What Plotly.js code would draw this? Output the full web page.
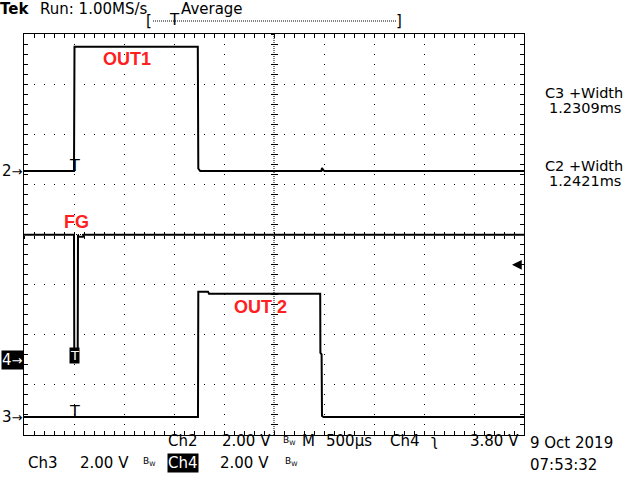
<!DOCTYPE html>
<html><head><meta charset="utf-8">
<script src="https://cdn.plot.ly/plotly-3.0.1.min.js"></script>
<style>html,body{margin:0;padding:0;background:#fff}#chart{width:640px;height:480px}</style>
</head><body><div id="chart"></div>
<script>
// Time in microseconds relative to the trigger point, amplitude in volts
const ch2Time = [-500, 0, 5, 1238, 1243, 1262, 2474, 2480, 2492, 2505, 4500];
const ch2Volt = [0, 0, 4.96, 4.96, 0.10, 0, 0, 0.12, 0.04, 0, 0];

const ch3Time = [-500, 1240, 1243, 1340, 1350, 2462, 2464, 2476, 2480, 2495, 4500];
const ch3Volt = [0, 0, 5.00, 5.00, 4.92, 4.92, 2.56, 2.50, 0.04, 0, 0];

const ch4Time = [-500, 0, 3, 37, 40, 45, 90, 95, 4500];
const ch4Volt = [5.00, 5.00, 0.05, 0.05, 5.00, 4.92, 4.92, 5.00, 5.00];

const voltsPerDiv = 2.0;
const ch2Ground = 1.267, ch3Ground = -3.64, ch4Ground = -2.504;
const triggerLevel = 3.80;

const toDiv = (v, g) => v.map(x => g + x / voltsPerDiv);

const FONT = 'DejaVu Sans, sans-serif';
const RFONT = 'Liberation Sans, Arial, sans-serif';
const PX = x => (x - 24) / 500;
const PY = y => 1 - (y - 34) / 401;

function lineTrace(t, v, g) {
  return {type: 'scatter', mode: 'lines', x: t, y: toDiv(v, g),
    line: {color: '#000', width: 2}, hoverinfo: 'skip', showlegend: false};
}
const empty = (xa, ya) => ({type: 'scatter', x: [], y: [], xaxis: xa, yaxis: ya, hoverinfo: 'skip', showlegend: false});

const data = [
  empty('x2', 'y'), empty('x3', 'y'), empty('x', 'y2'), empty('x', 'y3'),
  lineTrace(ch2Time, ch2Volt, ch2Ground),
  lineTrace(ch3Time, ch3Volt, ch3Ground),
  lineTrace(ch4Time, ch4Volt, ch4Ground)
];

const xr = [-500, 4500], yr = [-4, 4];
const baseX = {range: xr, showticklabels: false, zeroline: false, fixedrange: true};
const baseY = {range: yr, showticklabels: false, zeroline: false, fixedrange: true};

function txt(text, x, y, opts) {
  return Object.assign({text: text, xref: 'paper', yref: 'paper', x: PX(x), y: PY(y),
    xanchor: 'left', yanchor: 'middle', showarrow: false, borderpad: 0,
    font: {family: FONT, size: 15, color: '#000'}}, opts || {});
}
const red = {family: RFONT, size: 18, color: '#ff2020', weight: 'bold'};
const bw = '<span style="font-size:9px">B<sub>W</sub></span>';
const arrowSpan = '<span style="font-size:13px">→</span>';

const annotations = [
  txt('<b>Tek</b>', -1, 9),
  txt('Run: 1.00MS/s', 39, 9),
  txt('Average', 180, 9),
  txt('[', 145, 21),
  txt(']', 395, 21),
  txt('T', 168, 20),
  txt('C3 +Width', 584, 93, {xanchor: 'center', font: {family: FONT, size: 14.5, color: '#000'}}),
  txt('1.2309ms', 585, 108, {xanchor: 'center', font: {family: FONT, size: 14.5, color: '#000'}}),
  txt('C2 +Width', 584, 166, {xanchor: 'center', font: {family: FONT, size: 14.5, color: '#000'}}),
  txt('1.2421ms', 585, 181, {xanchor: 'center', font: {family: FONT, size: 14.5, color: '#000'}}),
  txt('Ch2', 167, 441), txt('2.00 V', 221, 441), txt(bw, 282, 440), txt('M', 301, 441),
  txt('500µs', 325, 441), txt('Ch4', 389, 441), txt('ʅ', 430, 441), txt('3.80 V', 469, 441),
  txt('Ch3', 27, 463), txt('2.00 V', 79, 463), txt(bw, 142, 462),
  txt('Ch4', 167, 463, {bgcolor: '#000', font: {family: FONT, size: 15, color: '#fff'}}),
  txt('2.00 V', 219, 463), txt(bw, 284, 462),
  txt('9 Oct 2019', 529, 443), txt('07:53:32', 529, 465),
  txt('OUT1', 127, 59, {xanchor: 'center', font: red}),
  txt('FG', 76, 222, {xanchor: 'center', font: red}),
  txt('OUT 2', 260, 307, {xanchor: 'center', font: red}),
  // channel ground markers
  {text: '2' + arrowSpan, xref: 'paper', x: 0, yref: 'y', y: ch2Ground, xanchor: 'right', yanchor: 'middle', showarrow: false, borderpad: 0, font: {family: FONT, size: 15, color: '#000'}},
  {text: '3' + arrowSpan, xref: 'paper', x: 0, yref: 'y', y: ch3Ground, xanchor: 'right', yanchor: 'middle', showarrow: false, borderpad: 0, font: {family: FONT, size: 15, color: '#000'}},
  {text: '4' + arrowSpan, xref: 'paper', x: 0, yref: 'y', y: ch4Ground, xanchor: 'right', yanchor: 'middle', showarrow: false, bgcolor: '#000', borderpad: 0, font: {family: FONT, size: 15, color: '#fff'}},
  // trigger markers
  {text: 'T', xref: 'x', x: 0, yref: 'y', y: ch2Ground, xanchor: 'center', yanchor: 'bottom', yshift: -5, showarrow: false, borderpad: 0, font: {family: FONT, size: 16, color: '#000'}},
  {text: 'T', xref: 'x', x: 0, yref: 'y', y: ch3Ground, xanchor: 'center', yanchor: 'bottom', yshift: -5, showarrow: false, borderpad: 0, font: {family: FONT, size: 16, color: '#000'}},
  {text: 'T', xref: 'x', x: 0, yref: 'y', y: ch4Ground, xanchor: 'center', yanchor: 'middle', yshift: 5, showarrow: false, bgcolor: '#000', borderpad: 0, font: {family: FONT, size: 13, color: '#fff'}},
  // trigger level arrow
  {text: '', xref: 'paper', x: PX(512), yref: 'y', y: ch4Ground + triggerLevel / voltsPerDiv, showarrow: true, ax: 11, ay: 0, arrowhead: 2, arrowsize: 1.3, arrowwidth: 1.5, arrowcolor: '#000'}
];

const shapes = [
  {type: 'line', xref: 'paper', yref: 'y', x0: 0, x1: 1, y0: 0, y1: 0, line: {color: '#000', width: 1, dash: '1px,1px'}},
  {type: 'line', xref: 'x', yref: 'paper', x0: 2000, x1: 2000, y0: 0, y1: 1, line: {color: '#000', width: 1, dash: '1px,1px'}},
  {type: 'line', xref: 'paper', yref: 'paper', x0: PX(153), x1: PX(396), y0: PY(21), y1: PY(21), line: {color: '#000', width: 1, dash: '1px,1px'}}
];

const layout = {
  width: 640, height: 480,
  margin: {l: 24, r: 116, t: 34, b: 45, pad: 0},
  paper_bgcolor: '#fff', plot_bgcolor: '#fff',
  showlegend: false,
  xaxis: Object.assign({}, baseX, {dtick: 500, tick0: 0, showgrid: true, gridcolor: '#000', gridwidth: 1, griddash: '1px,9px',
    showline: true, mirror: 'allticks', linecolor: '#000', linewidth: 1,
    ticks: 'inside', ticklen: 4, tickcolor: '#000', tickwidth: 1,
    minor: {dtick: 100, tick0: 0, ticks: 'inside', ticklen: 2, tickcolor: '#000', showgrid: false}}),
  yaxis: Object.assign({}, baseY, {dtick: 1, tick0: 0, showgrid: true, gridcolor: '#000', gridwidth: 1, griddash: '1px,9px',
    showline: true, mirror: 'allticks', linecolor: '#000', linewidth: 1,
    ticks: 'inside', ticklen: 4, tickcolor: '#000', tickwidth: 1,
    minor: {dtick: 0.2, tick0: 0, ticks: 'inside', ticklen: 2, tickcolor: '#000', showgrid: false}}),
  xaxis2: Object.assign({}, baseX, {overlaying: 'x', anchor: 'free', position: 0.5, showgrid: false, showline: false,
    dtick: 100, tick0: 0, ticks: 'outside', ticklen: 3, tickcolor: '#000', tickwidth: 1}),
  xaxis3: Object.assign({}, baseX, {overlaying: 'x', anchor: 'free', position: 0.5, showgrid: false, showline: false,
    dtick: 100, tick0: 0, ticks: 'inside', ticklen: 3, tickcolor: '#000', tickwidth: 1}),
  yaxis2: Object.assign({}, baseY, {overlaying: 'y', anchor: 'free', position: 0.5, showgrid: false, showline: false,
    dtick: 0.2, tick0: 0, ticks: 'outside', ticklen: 3, tickcolor: '#000', tickwidth: 1}),
  yaxis3: Object.assign({}, baseY, {overlaying: 'y', anchor: 'free', position: 0.5, showgrid: false, showline: false,
    dtick: 0.2, tick0: 0, ticks: 'inside', ticklen: 3, tickcolor: '#000', tickwidth: 1}),
  annotations: annotations,
  shapes: shapes
};

Plotly.newPlot('chart', data, layout, {staticPlot: true, displayModeBar: false});
</script>
</body></html>
